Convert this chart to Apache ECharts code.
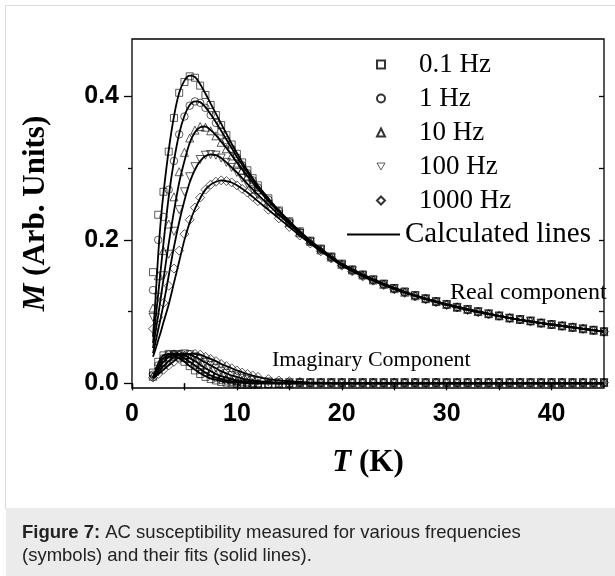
<!DOCTYPE html>
<html><head><meta charset="utf-8">
<script src="https://cdn.jsdelivr.net/npm/echarts@6/dist/echarts.min.js"></script>
<style>html,body{margin:0;padding:0;background:#fff}#c{width:615px;height:576px}</style>
</head><body><div id="c"></div>
<script>
// ---- data ----
const freqNames = ['0.1 Hz', '1 Hz', '10 Hz', '100 Hz', '1000 Hz'];
const tData = [2,2.5,3,3.5,4,4.5,5,5.5,6,6.5,7,7.5,8,8.5,9,9.5,10,10.5,11,11.5,12,
  13,14,15,16,17,18,19,20,21,22,23,24,25,26,27,28,29,30,31,32,33,34,35,36,37,38,39,40,41,42,43,44,45];
const real01 = [0.155,0.235,0.267,0.323,0.37,0.405,0.42,0.428,0.426,0.415,0.402,0.388,0.374,0.36,0.346,0.333,0.32,0.308,0.297,0.286,0.276,
  0.258,0.241,0.226,0.212,0.199,0.188,0.177,0.167,0.159,0.152,0.145,0.139,0.133,0.128,0.123,0.118,0.114,0.110,0.106,0.103,0.100,0.097,0.094,0.091,0.089,0.087,0.084,0.082,0.080,0.078,0.076,0.074,0.072];
const real1 = [0.13,0.2,0.232,0.27,0.31,0.347,0.372,0.387,0.393,0.391,0.384,0.374,0.363,0.351,0.339,0.327,0.315,0.304,0.293,0.283,0.273,
  0.256,0.240,0.225,0.211,0.198,0.187,0.176,0.166,0.158,0.151,0.144,0.138,0.132,0.127,0.122,0.118,0.114,0.110,0.106,0.103,0.100,0.097,0.094,0.091,0.089,0.087,0.084,0.082,0.080,0.078,0.076,0.074,0.072];
const real10 = [0.105,0.15,0.185,0.222,0.26,0.295,0.322,0.342,0.353,0.358,0.357,0.352,0.345,0.336,0.327,0.317,0.307,0.297,0.288,0.279,0.270,
  0.254,0.239,0.224,0.210,0.198,0.186,0.176,0.166,0.158,0.151,0.144,0.138,0.132,0.127,0.122,0.118,0.114,0.110,0.106,0.103,0.100,0.097,0.094,0.091,0.089,0.087,0.084,0.082,0.080,0.078,0.076,0.074,0.072];
const real100 = [0.092,0.12,0.15,0.18,0.212,0.242,0.267,0.288,0.302,0.312,0.318,0.319,0.318,0.314,0.308,0.301,0.294,0.286,0.278,0.270,0.263,
  0.249,0.235,0.222,0.209,0.197,0.186,0.175,0.165,0.157,0.150,0.144,0.138,0.132,0.127,0.122,0.118,0.114,0.110,0.106,0.103,0.100,0.097,0.094,0.091,0.089,0.087,0.084,0.082,0.080,0.078,0.076,0.074,0.072];
const real1000 = [0.076,0.092,0.112,0.136,0.16,0.185,0.208,0.228,0.245,0.259,0.27,0.277,0.281,0.283,0.282,0.28,0.276,0.271,0.266,0.26,0.254,
  0.242,0.230,0.218,0.206,0.195,0.184,0.174,0.164,0.156,0.149,0.143,0.137,0.131,0.126,0.121,0.117,0.113,0.109,0.106,0.102,0.099,0.096,0.094,0.091,0.089,0.086,0.084,0.082,0.080,0.078,0.076,0.074,0.072];

const imag01 = [0.015,0.03,0.039,0.041,0.04,0.036,0.03,0.024,0.018,0.013,0.009,0.006,0.004,0.002,0.001,0,-0.001,-0.002,-0.002,-0.002,-0.002,
  -0.001,-0.001,0,0.001,0.001,0.001,0.001,0.001,0.001,0.001,0.001,0.001,0.001,0.001,0.001,0.001,0.001,0.001,0.001,0.001,0.001,0.001,0.001,0.001,0.001,0.001,0.001,0.001,0.001,0.001,0.001,0.001,0.001];
const imag1 = [0.012,0.025,0.035,0.04,0.041,0.039,0.035,0.03,0.025,0.019,0.015,0.011,0.008,0.005,0.004,0.002,0.001,0,0,-0.001,-0.001,
  -0.001,0,0,0.001,0.001,0.001,0.001,0.001,0.001,0.001,0.001,0.001,0.001,0.001,0.001,0.001,0.001,0.001,0.001,0.001,0.001,0.001,0.001,0.001,0.001,0.001,0.001,0.001,0.001,0.001,0.001,0.001,0.001];
const imag10 = [0.01,0.02,0.03,0.037,0.041,0.041,0.039,0.035,0.031,0.026,0.021,0.017,0.013,0.01,0.007,0.005,0.004,0.003,0.002,0.001,0.001,
  0,0,0,0.001,0.001,0.001,0.001,0.001,0.001,0.001,0.001,0.001,0.001,0.001,0.001,0.001,0.001,0.001,0.001,0.001,0.001,0.001,0.001,0.001,0.001,0.001,0.001,0.001,0.001,0.001,0.001,0.001,0.001];
const imag100 = [0.009,0.016,0.024,0.031,0.037,0.04,0.041,0.04,0.037,0.033,0.029,0.025,0.021,0.017,0.014,0.011,0.009,0.007,0.005,0.004,0.003,
  0.002,0.001,0.001,0.001,0.001,0.001,0.001,0.001,0.001,0.001,0.001,0.001,0.001,0.001,0.001,0.001,0.001,0.001,0.001,0.001,0.001,0.001,0.001,0.001,0.001,0.001,0.001,0.001,0.001,0.001,0.001,0.001,0.001];
const imag1000 = [0.008,0.013,0.019,0.025,0.03,0.034,0.038,0.04,0.041,0.04,0.037,0.034,0.031,0.027,0.024,0.021,0.018,0.015,0.013,0.011,0.009,
  0.006,0.004,0.003,0.002,0.001,0.001,0.001,0.001,0.001,0.001,0.001,0.001,0.001,0.001,0.001,0.001,0.001,0.001,0.001,0.001,0.001,0.001,0.001,0.001,0.001,0.001,0.001,0.001,0.001,0.001,0.001,0.001,0.001];

// calculated (fit) lines
const tFit = [2,2.25,2.5,2.75,3,3.5,4,4.5,5,5.5,6,6.5,7,7.5,8,8.5,9,9.5,10,11,12,13,14,15,16,17,18,19,20,22,24,26,28,30,33,36,40,45];
const fitReal01 = [0.065,0.12,0.18,0.228,0.265,0.325,0.372,0.405,0.422,0.429,0.427,0.417,0.404,0.39,0.376,0.362,0.348,0.334,0.321,0.297,0.276,0.258,0.241,0.226,0.212,0.199,0.188,0.177,0.167,0.152,0.139,0.128,0.118,0.110,0.100,0.091,0.082,0.072];
const fitReal1 = [0.056,0.09,0.125,0.16,0.195,0.26,0.31,0.348,0.373,0.388,0.393,0.392,0.385,0.375,0.364,0.352,0.34,0.328,0.316,0.294,0.274,0.256,0.240,0.225,0.211,0.198,0.187,0.176,0.166,0.151,0.138,0.127,0.118,0.110,0.100,0.091,0.082,0.072];
const fitReal10 = [0.049,0.072,0.095,0.12,0.145,0.195,0.24,0.28,0.31,0.335,0.35,0.357,0.358,0.353,0.346,0.337,0.328,0.318,0.308,0.289,0.271,0.254,0.239,0.224,0.210,0.198,0.186,0.176,0.166,0.151,0.138,0.127,0.118,0.110,0.100,0.091,0.082,0.072];
const fitReal100 = [0.042,0.058,0.075,0.092,0.11,0.15,0.19,0.225,0.255,0.28,0.298,0.31,0.317,0.319,0.318,0.314,0.308,0.301,0.294,0.278,0.263,0.249,0.235,0.222,0.209,0.197,0.186,0.175,0.165,0.150,0.138,0.127,0.118,0.110,0.100,0.091,0.082,0.072];
const fitReal1000 = [0.037,0.048,0.06,0.072,0.085,0.11,0.14,0.17,0.2,0.224,0.243,0.258,0.27,0.277,0.281,0.283,0.282,0.28,0.276,0.266,0.254,0.242,0.230,0.218,0.206,0.195,0.184,0.174,0.164,0.149,0.137,0.126,0.117,0.109,0.099,0.091,0.082,0.072];
const fitImag01 = [0.008,0.018,0.028,0.035,0.039,0.041,0.039,0.035,0.03,0.024,0.019,0.014,0.01,0.007,0.005,0.003,0.002,0.001,0.001,0,0,0,0,0,0,0,0,0,0,0,0,0,0,0,0,0,0,0];
const fitImag1 = [0.008,0.016,0.024,0.03,0.035,0.04,0.041,0.039,0.035,0.03,0.025,0.02,0.015,0.011,0.008,0.006,0.004,0.003,0.002,0.001,0,0,0,0,0,0,0,0,0,0,0,0,0,0,0,0,0,0];
const fitImag10 = [0.008,0.014,0.02,0.025,0.03,0.037,0.041,0.041,0.039,0.035,0.031,0.026,0.021,0.017,0.013,0.01,0.008,0.006,0.004,0.002,0.001,0.001,0,0,0,0,0,0,0,0,0,0,0,0,0,0,0,0];
const fitImag100 = [0.007,0.011,0.016,0.02,0.024,0.031,0.037,0.04,0.041,0.04,0.037,0.033,0.029,0.025,0.021,0.017,0.014,0.011,0.009,0.005,0.003,0.002,0.001,0.001,0,0,0,0,0,0,0,0,0,0,0,0,0,0];
const fitImag1000 = [0.007,0.01,0.013,0.016,0.019,0.025,0.031,0.036,0.039,0.041,0.041,0.04,0.037,0.034,0.031,0.027,0.024,0.021,0.018,0.013,0.009,0.006,0.004,0.003,0.002,0.001,0.001,0,0,0,0,0,0,0,0,0,0,0];

// ticks
const xTickVals = [0,5,10,15,20,25,30,35,40];
const xLabelVals = [0,10,20,30,40];
const yMajorVals = [0,0.2,0.4];
const yMinorVals = [0.1,0.3];
const yRightVals = [0.1,0.2,0.3,0.4];

// ---- chart ----
const realSets = [real01, real1, real10, real100, real1000];
const imagSets = [imag01, imag1, imag10, imag100, imag1000];
const fitRealSets = [fitReal01, fitReal1, fitReal10, fitReal100, fitReal1000];
const fitImagSets = [fitImag01, fitImag1, fitImag10, fitImag100, fitImag1000];
const symbols = ['rect','circle','triangle','triangle','diamond'];
const rotates = [0,0,0,180,0];
const sizes = [7,7.5,8,8,9];

function pairs(xs, ys){ return xs.map((x,i)=>[x, ys[i]]); }

const SERIF = '"Liberation Serif","Times New Roman",serif';
const SANS = '"Liberation Sans",Arial,sans-serif';
const hollow = {color:'rgba(255,255,255,0)', borderColor:'#000', borderWidth:0.8};

const series = [];
freqNames.forEach((n,i)=>{
  const base = {type:'scatter', name:n, symbol:symbols[i], symbolRotate:rotates[i], symbolSize:sizes[i],
    itemStyle:hollow, z:2, silent:true};
  series.push(Object.assign({}, base, {data:pairs(tData, realSets[i])}));
  series.push(Object.assign({}, base, {data:pairs(tData, imagSets[i])}));
});
freqNames.forEach((n,i)=>{
  const base = {type:'line', name:'Calculated lines', symbol:'none', smooth:0.3, silent:true,
    lineStyle:{color:'#000', width:1.8}, itemStyle:{color:'#000'}, z:3};
  series.push(Object.assign({}, base, {data:pairs(tFit, fitRealSets[i])}));
  series.push(Object.assign({}, base, {data:pairs(tFit, fitImagSets[i])}));
});

const legendItems = freqNames.map((n,i)=> i===3
  ? {name:n, icon:'path://M0,0L10,0L5,8.66Z', itemStyle:hollow}
  : {name:n});

const tickLbl = {fontFamily:SANS, fontWeight:'bold', fontSize:25, color:'#000'};
const nameRich = {i:{fontFamily:SERIF, fontStyle:'italic', fontWeight:'bold', fontSize:31, color:'#000'},
                  n:{fontFamily:SERIF, fontWeight:'bold', fontSize:31, color:'#000'}};
const chart = echarts.init(document.getElementById('c'));
chart.setOption({
  animation:false,
  backgroundColor:'#fff',
  grid:{left:132, top:39, width:472, height:349, show:true, borderColor:'#000', borderWidth:1.3,
        backgroundColor:'transparent', outerBoundsMode:'none'},
  legend:[
    {data:legendItems, orient:'vertical', left:371, top:46, itemWidth:8, itemHeight:8, itemGap:7,
     selectedMode:false, textStyle:{fontFamily:SERIF, fontSize:27, color:'#000', lineHeight:27, padding:[0,0,0,29]}},
    {data:[{name:'Calculated lines', icon:'rect'}], orient:'vertical', left:342, top:215, itemWidth:53, itemHeight:2,
     selectedMode:false, itemStyle:{color:'#000'},
     textStyle:{fontFamily:SERIF, fontSize:29, color:'#000', lineHeight:29}}
  ],
  xAxis:[
    {type:'value', position:'bottom', min:0, max:45, axisLine:{show:false}, splitLine:{show:false},
     axisTick:{show:true, length:7, customValues:xTickVals, lineStyle:{color:'#000', width:1.3}},
     axisLabel:{customValues:xLabelVals, margin:14, ...tickLbl},
     name:'{i|T} {n|(K)}', nameLocation:'middle', nameGap:59,
     nameTextStyle:{fontFamily:SERIF, fontWeight:'bold', fontSize:31, color:'#000', rich:nameRich}},
    {type:'value', position:'top', min:0, max:45, axisLine:{show:false}, splitLine:{show:false},
     axisTick:{show:true, inside:true, length:5, customValues:xTickVals, lineStyle:{color:'#000', width:1.3}},
     axisLabel:{show:false}}
  ],
  yAxis:[
    {type:'value', position:'left', min:-0.0065, max:0.48, axisLine:{show:false}, splitLine:{show:false},
     axisTick:{show:true, length:8, customValues:yMajorVals, lineStyle:{color:'#000', width:1.3}},
     axisLabel:{customValues:yMajorVals, margin:13, formatter:v=>v.toFixed(1), ...tickLbl},
     name:'{i|M} {n|(Arb. Units)}', nameLocation:'middle', nameGap:81,
     nameTextStyle:{fontFamily:SERIF, fontWeight:'bold', fontSize:31, color:'#000', rich:nameRich}},
    {type:'value', position:'left', min:-0.0065, max:0.48, axisLine:{show:false}, splitLine:{show:false},
     axisTick:{show:true, length:4, customValues:yMinorVals, lineStyle:{color:'#000', width:1.3}},
     axisLabel:{show:false}},
    {type:'value', position:'right', min:-0.0065, max:0.48, axisLine:{show:false}, splitLine:{show:false},
     axisTick:{show:true, inside:true, length:5, customValues:yRightVals, lineStyle:{color:'#000', width:1.3}},
     axisLabel:{show:false}}
  ],
  graphic:[
    {type:'rect', silent:true, z:-10, shape:{x:5.5, y:5.5, width:640, height:503.5},
     style:{fill:'none', stroke:'#dadada', lineWidth:1}},
    {type:'rect', silent:true, z:-10, shape:{x:6, y:509, width:609, height:67}, style:{fill:'#ebebeb'}},
    {type:'text', silent:true, x:22, y:522,
     style:{text:'{b|Figure 7:} AC susceptibility measured for various frequencies\n(symbols) and their fits (solid lines).',
       fontFamily:SANS, fontSize:18.5, fill:'#222', lineHeight:22.5,
       rich:{b:{fontFamily:SANS, fontWeight:'bold', fontSize:18.5, fill:'#222', lineHeight:22.5}}}},
    {type:'text', silent:true, x:450, y:293,
     style:{text:'Real component', fontFamily:SERIF, fontSize:24, fill:'#000', verticalAlign:'middle'}},
    {type:'text', silent:true, x:272, y:360,
     style:{text:'Imaginary Component', fontFamily:SERIF, fontSize:22, fill:'#000', verticalAlign:'middle'}}
  ],
  series:series
});
</script>
</body></html>
